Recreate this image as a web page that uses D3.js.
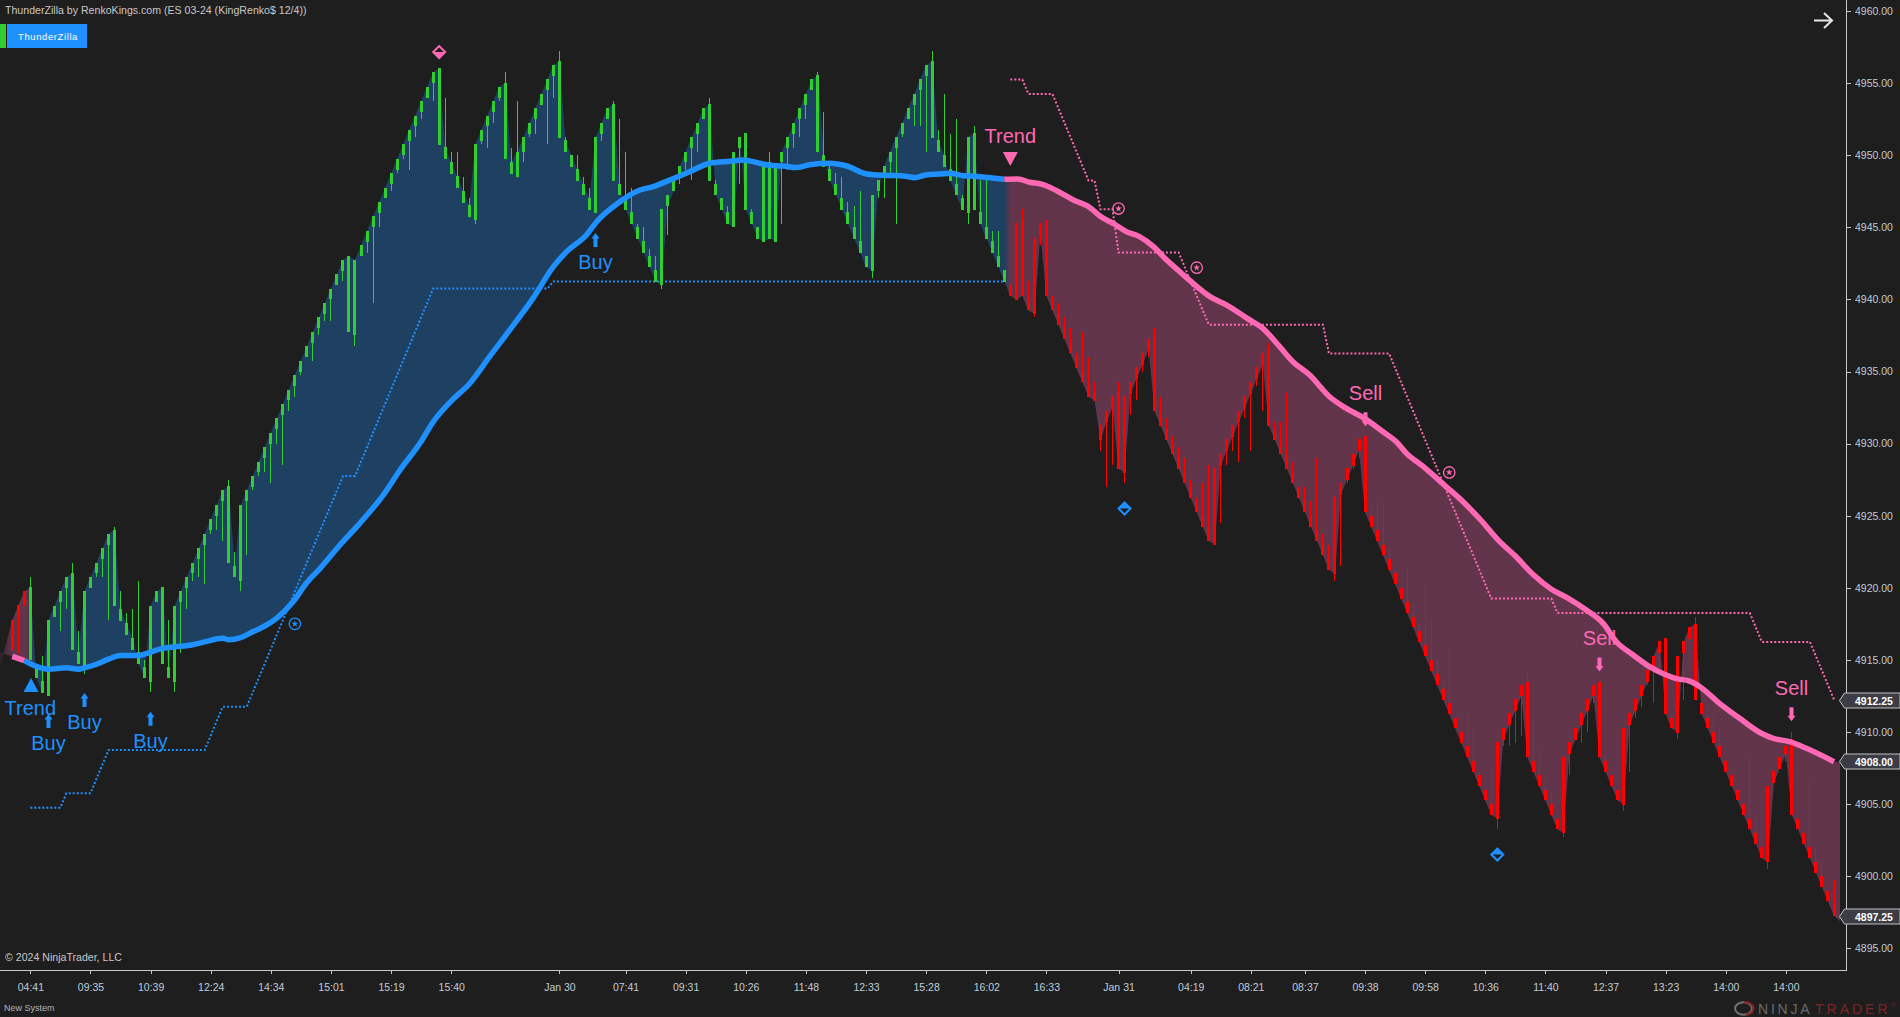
<!DOCTYPE html>
<html>
<head>
<meta charset="utf-8">
<title>ThunderZilla ES 03-24</title>
<script src="https://cdn.jsdelivr.net/npm/d3@7"></script>
<style>
  html, body { margin: 0; padding: 0; background: #1e1e1e; overflow: hidden; }
  svg { display: block; font-family: "Liberation Sans", Arial, sans-serif; }
</style>
</head>
<body>
<svg id="chart" width="1900" height="1017"></svg>
<script>
// KingRenko bars: open, close, high, low
const barOpen = [
4915.75,4918,4919,4920,4914.5,4913.5,4912.5,4918,4919,4920,
4921,4915.5,4914.5,4920,4921,4922,4923,4924,4918.5,4917.5,
4916.5,4915.5,4914.5,4913.5,4919,4920,4914.5,4913.5,4919,4920,
4921,4922,4923,4924,4925,4926,4927,4921.5,4920.5,4926,
4927,4928,4929,4930,4931,4932,4933,4934,4935,4936,
4937,4938,4939,4940,4941,4942,4943,4937.5,4943,4944,
4945,4946,4947,4948,4949,4950,4951,4952,4953,4954,
4955,4956,4950.5,4949.5,4948.5,4947.5,4946.5,4945.5,4951,4952,
4953,4954,4955,4949.5,4948.5,4950.25,4951.5,4952.5,4953.5,4954.5,
4955.5,4956.5,4951,4950,4949,4948,4947,4946,4951.5,4952.5,
4953.5,4948,4947,4946,4945,4944,4943,4942,4941,4946.5,
4947.5,4948.5,4949.5,4950.5,4951.5,4952.5,4953.5,4948,4947,4946,
4945,4950.5,4951.5,4946,4945,4944,4949.5,4944,4949.5,4950.5,
4951.5,4952.5,4953.5,4954.5,4955.5,4950,4949,4948,4947,4946,
4945,4944,4943,4942,4947.5,4948.5,4949.5,4950.5,4951.5,4952.5,
4953.5,4954.5,4955.5,4956.5,4951,4950,4949,4948,4947,4946,
4951.5,4946,4945,4944,4943,4942,4941,4940,4945.5,4940,
4939,4944.5,4945.5,4940,4939,4938,4937,4936,4935,4934,
4933,4930.25,4931.5,4932.5,4933.5,4928,4933.5,4934.5,4935.5,4936.5,
4937.5,4932,4931,4930,4929,4928,4927,4926,4925,4924,
4923,4928.5,4929.5,4930.5,4931.5,4932.5,4933.5,4934.5,4935.5,4936.5,
4931,4930,4929,4928,4927,4926,4925,4924,4923,4922,
4921,4926.5,4927.5,4928.5,4929.5,4930.5,4925,4924,4923,4922,
4921,4920,4919,4918,4917,4916,4915,4914,4913,4912,
4911,4910,4909,4908,4907,4906,4905,4904,4909.5,4910.5,
4911.5,4912.5,4913.5,4908,4907,4906,4905,4904,4903,4908.5,
4909.5,4910.5,4911.5,4912.5,4913.5,4908,4907,4906,4905,4910.5,
4911.5,4912.5,4913.5,4914.5,4915.5,4916.5,4911,4910,4915.5,4916.5,
4917.5,4912,4911,4910,4909,4908,4907,4906,4905,4904,
4903,4902,4901,4906.5,4907.5,4908.5,4909.5,4904,4903,4902,
4901,4900,4899,4898];

const barClose = [
4917.75,4918.75,4919.75,4915,4913.75,4912.75,4917.75,4918.75,4919.75,4920.75,
4915.75,4914.75,4919.75,4920.75,4921.75,4922.75,4923.75,4918.75,4917.75,4916.75,
4915.75,4914.75,4913.75,4918.75,4919.75,4914.75,4913.75,4918.75,4919.75,4920.75,
4921.75,4922.75,4923.75,4924.75,4925.75,4926.75,4921.75,4920.75,4925.75,4926.75,
4927.75,4928.75,4929.75,4930.75,4931.75,4932.75,4933.75,4934.75,4935.75,4936.75,
4937.75,4938.75,4939.75,4940.75,4941.75,4942.75,4937.75,4942.75,4943.75,4944.75,
4945.75,4946.75,4947.75,4948.75,4949.75,4950.75,4951.75,4952.75,4953.75,4954.75,
4955.75,4950.75,4949.75,4948.75,4947.75,4946.75,4945.75,4950.75,4951.75,4952.75,
4953.75,4954.75,4949.75,4948.75,4950.25,4951.25,4952.25,4953.25,4954.25,4955.25,
4956.25,4951.25,4950.25,4949.25,4948.25,4947.25,4946.25,4951.25,4952.25,4953.25,
4948.25,4947.25,4946.25,4945.25,4944.25,4943.25,4942.25,4941.25,4946.25,4947.25,
4948.25,4949.25,4950.25,4951.25,4952.25,4953.25,4948.25,4947.25,4946.25,4945.25,
4950.25,4951.25,4946.25,4945.25,4944.25,4949.25,4944.25,4949.25,4950.25,4951.25,
4952.25,4953.25,4954.25,4955.25,4950.25,4949.25,4948.25,4947.25,4946.25,4945.25,
4944.25,4943.25,4942.25,4947.25,4948.25,4949.25,4950.25,4951.25,4952.25,4953.25,
4954.25,4955.25,4956.25,4951.25,4950.25,4949.25,4948.25,4947.25,4946.25,4951.25,
4946.25,4945.25,4944.25,4943.25,4942.25,4941.25,4940.25,4945.25,4940.25,4939.25,
4944.25,4945.25,4940.25,4939.25,4938.25,4937.25,4936.25,4935.25,4934.25,4933.25,
4933.5,4931.25,4932.25,4933.25,4928.25,4933.25,4934.25,4935.25,4936.25,4937.25,
4932.25,4931.25,4930.25,4929.25,4928.25,4927.25,4926.25,4925.25,4924.25,4923.25,
4928.25,4929.25,4930.25,4931.25,4932.25,4933.25,4934.25,4935.25,4936.25,4931.25,
4930.25,4929.25,4928.25,4927.25,4926.25,4925.25,4924.25,4923.25,4922.25,4921.25,
4926.25,4927.25,4928.25,4929.25,4930.25,4925.25,4924.25,4923.25,4922.25,4921.25,
4920.25,4919.25,4918.25,4917.25,4916.25,4915.25,4914.25,4913.25,4912.25,4911.25,
4910.25,4909.25,4908.25,4907.25,4906.25,4905.25,4904.25,4909.25,4910.25,4911.25,
4912.25,4913.25,4908.25,4907.25,4906.25,4905.25,4904.25,4903.25,4908.25,4909.25,
4910.25,4911.25,4912.25,4913.25,4908.25,4907.25,4906.25,4905.25,4910.25,4911.25,
4912.25,4913.25,4914.25,4915.25,4916.25,4911.25,4910.25,4915.25,4916.25,4917.25,
4912.25,4911.25,4910.25,4909.25,4908.25,4907.25,4906.25,4905.25,4904.25,4903.25,
4902.25,4901.25,4906.25,4907.25,4908.25,4909,4904.25,4903.25,4902.25,4901.25,
4900.25,4899.25,4898.25,4897.25];

const barHigh = [
4917.75,4918.75,4919.75,4920.75,4914.5,4915.25,4917.75,4918.75,4919.75,4920.75,
4921.75,4917,4919.75,4920.75,4921.75,4922.75,4923.75,4924.25,4919.75,4918.25,
4918.5,4920.5,4915,4918.75,4919.75,4920,4917.75,4918.75,4919.75,4920.75,
4921.75,4922.75,4923.75,4924.75,4925.75,4926.75,4927.5,4922.5,4925.75,4926.75,
4927.75,4928.75,4929.75,4930.75,4931.75,4932.75,4933.75,4934.75,4935.75,4936.75,
4937.75,4938.75,4939.75,4940.75,4941.75,4942.75,4943,4942.75,4943.75,4944.75,
4945.75,4946.75,4947.75,4948.75,4949.75,4950.75,4951.75,4952.75,4953.75,4954.75,
4955.75,4956,4954,4950.25,4950.25,4948.5,4947,4950.75,4951.75,4952.75,
4953.75,4954.75,4955.75,4950.5,4953.75,4951.25,4952.25,4953.25,4954.25,4955.25,
4956.25,4957.25,4951.25,4950,4950,4948.5,4947.75,4951.25,4952.25,4953.25,
4953.75,4952.5,4950.25,4947.75,4945.25,4945,4943.5,4943,4946.25,4947.25,
4948.25,4949.25,4950.25,4951.25,4952.25,4953.25,4954,4948.25,4947,4946.5,
4950.25,4951.25,4951.5,4946.25,4945,4949.25,4950.25,4949.25,4950.25,4951.25,
4952.25,4953.25,4954.25,4955.25,4955.75,4953,4949.25,4948.75,4948.5,4946.75,
4946.5,4947.5,4943,4947.25,4948.25,4949.25,4950.25,4951.25,4952.25,4953.25,
4954.25,4955.25,4956.25,4957.25,4951.75,4954.25,4951.5,4952.5,4947.25,4951.25,
4952,4948.25,4948.25,4944.75,4944.75,4942,4941,4945.25,4946.25,4941.25,
4944.25,4945.25,4945.5,4940.25,4939.75,4938.75,4938,4936.25,4937.75,4936,
4934.25,4931.25,4932.25,4933.25,4934.25,4933.25,4934.25,4935.25,4936.25,4937.25,
4938,4933.25,4931.75,4930.5,4929.75,4929,4927.5,4926.25,4927.25,4928.5,
4928.25,4929.25,4930.25,4931.25,4932.25,4933.25,4934.25,4935.25,4936.25,4937,
4931.5,4931.5,4933.5,4928.75,4927,4927,4926,4929,4923.75,4923,
4926.25,4927.25,4928.25,4929.25,4930.25,4930.5,4925.5,4926,4925.75,4922.75,
4921.25,4920,4921.25,4918.75,4917.5,4920.25,4917.75,4915,4913.5,4915.75,
4911,4910,4911.25,4910.25,4907.25,4906,4907.25,4909.25,4910.25,4911.25,
4912.25,4913.25,4914.25,4910.75,4908.75,4906.75,4905.75,4904,4908.25,4909.25,
4910.25,4911.25,4912.25,4913.25,4913.5,4908.5,4907,4906,4910.25,4911.25,
4912.25,4913.25,4914.25,4915.25,4916.25,4916.5,4911.25,4915.25,4916.25,4917.25,
4918,4912,4911.75,4911.25,4910.25,4908,4907,4906,4905,4908.25,
4904,4903,4906.25,4907.25,4908.25,4909,4910,4904,4903,4906.5,
4902,4901,4899,4899.75];

const barLow = [
4915.75,4915.5,4918.75,4915,4913.75,4912.75,4912.5,4918,4917,4918.5,
4915.75,4914.75,4914,4920,4920.75,4920.75,4917.75,4918.75,4917.75,4916.75,
4915.75,4914.75,4913.75,4912.75,4919,4914.75,4913.75,4912.75,4915.5,4918.5,
4920.5,4920.75,4920.25,4923.75,4924,4923.25,4921.75,4920.75,4919.75,4922.25,
4926.75,4927.75,4928,4927.25,4930,4928.5,4932.25,4933.25,4934.75,4936,
4935.75,4937.5,4938.5,4938.5,4941,4941.25,4937.75,4936.75,4943,4943.25,
4939.75,4945,4947,4947.5,4948.75,4949.75,4949,4951.25,4952.5,4954,
4953.75,4950.75,4949.75,4948.75,4947.75,4946.75,4945.75,4945.25,4950.75,4950.5,
4952.25,4953.75,4949.75,4948.75,4948.5,4949.5,4951.25,4951.5,4953.5,4950.75,
4954,4951.25,4950.25,4949.25,4948.25,4947.25,4946.25,4946,4951,4952.5,
4948.25,4947.25,4946.25,4945.25,4944.25,4943.25,4942.25,4941.25,4940.75,4944.5,
4947.5,4948,4949,4948.25,4950.25,4952.5,4948.25,4947.25,4946.25,4945.25,
4945,4948,4946.25,4945.25,4944.25,4944,4944.25,4944,4945.25,4949,
4950.5,4951.25,4952.5,4954.5,4950.25,4949.25,4948.25,4947.25,4946.25,4945.25,
4944.25,4943.25,4942.25,4941.5,4947,4947,4948.75,4945.25,4951.25,4952.5,
4952,4952,4950.25,4951.25,4950.25,4949.25,4948.25,4947.25,4946.25,4945.25,
4946.25,4945.25,4944.25,4943.25,4942.25,4941.25,4940.25,4940,4940.25,4939.25,
4938.75,4943.75,4940.25,4939.25,4938.25,4937.25,4936.25,4935.25,4934.25,4933.25,
4933,4929.5,4927,4928.5,4928.25,4927.25,4932,4933,4935,4936,
4932.25,4931.25,4930.25,4929.25,4928.25,4927.25,4926.25,4925.25,4924.25,4923.25,
4923,4924.5,4928.5,4929.5,4928.75,4931.75,4929.5,4934,4932.25,4931.25,
4930.25,4929.25,4928.25,4927.25,4926.25,4925.25,4924.25,4923.25,4922.25,4921.25,
4920.5,4921.5,4927.25,4928.25,4929,4925.25,4924.25,4923.25,4922.25,4921.25,
4920.25,4919.25,4918.25,4917.25,4916.25,4915.25,4914.25,4913.25,4912.25,4911.25,
4910.25,4909.25,4908.25,4907.25,4906.25,4905.25,4904.25,4903.25,4909,4909,
4909.25,4909.75,4908.25,4907.25,4906.25,4905.25,4904.25,4903.25,4902.75,4907,
4909.5,4909.25,4910,4912,4908.25,4907.25,4906.25,4905.25,4904.5,4907.25,
4911,4911.75,4913.25,4912,4914.5,4911.25,4910.25,4909.5,4912.25,4916.5,
4912.25,4911.25,4910.25,4909.25,4908.25,4907.25,4906.25,4905.25,4904.25,4903.25,
4902.25,4901.25,4900.5,4906.5,4907.5,4908,4904.25,4903.25,4902.25,4901.25,
4900.25,4899.25,4898.25,4897.25];

// Bars where the trend state flips: bearish until the first, bullish until the second
const trendFlipUp = 3;
const trendFlipDown = 166;

// Trend moving average, sampled along the bars
const maIndex = [0,2,4,6,9,11,12,14,16,18,21,22,25,27,30,32,35,36,38,40,42,44,46.7,48.9,51.2,54.5,57.8,61.7,64.5,67.8,70,73,76,79.6,82.6,86.6,90,92.2,95.5,97.2,101,102.7,104.4,106.6,108.3,111,112.7,116,119.4,121.6,124.3,126,128.2,130.4,132.6,136,138.8,142.1,145.4,148.2,150.1,152.1,154.3,156,158.2,161,165,167.3,169.2,171.2,173.7,176.5,179.2,180.9,183.1,185.3,187.5,189.8,192,194.2,196.4,199.2,202,205.4,208,210.8,213,215.8,219.1,221.9,224.9,228,230.2,231.9,234.7,238.5,241.3,244,247.4,250,253,256,258.8,261.8,264.6,266.8,269.6,272.3,275.1,276.8,279,280.7,284,287.3,290.9,292.9,295.6,298.4,303];
const maValue = [4915.25,4914.95,4914.55,4914.35,4914.45,4914.35,4914.45,4914.7,4915.05,4915.3,4915.3,4915.4,4915.8,4915.9,4916.05,4916.25,4916.5,4916.4,4916.55,4916.95,4917.35,4917.9,4919.03,4920.31,4921.35,4922.97,4924.47,4926.43,4928.17,4930.02,4931.5,4932.95,4934.13,4936.15,4937.8,4940.07,4942.27,4943.31,4944.47,4945.39,4946.75,4947.24,4947.59,4947.82,4948.1,4948.56,4948.86,4949.44,4949.58,4949.67,4949.44,4949.3,4949.25,4949.14,4949.34,4949.44,4949.25,4948.7,4948.6,4948.56,4948.44,4948.65,4948.7,4948.74,4948.58,4948.51,4948.33,4948.35,4948.12,4948,4947.54,4946.89,4946.38,4945.78,4945.27,4944.7,4944.35,4943.66,4942.73,4941.92,4941.11,4940.19,4939.61,4938.68,4937.99,4936.72,4935.68,4934.75,4933.25,4932.44,4931.75,4930.82,4930.13,4929.32,4928.4,4927.01,4925.97,4924.81,4923.2,4922.2,4920.9,4919.9,4919.27,4918.46,4917.53,4916.26,4915.34,4914.53,4913.95,4913.7,4913.53,4913.14,4911.97,4910.95,4909.91,4909.56,4909.33,4908.87,4907.94];

// The cloud runs a little past the visible bars on both sides
const cloudLeadIndex = [-2,-1];
const cloudLeadEdge = [4914.7,4916.15];
const cloudLeadMa = 4915.5;
const cloudTailIndex = 304;
const cloudTailEdge = 4896.9;
const cloudTailMa = 4907.9;

// Trailing stop lines
const longStopIndex = [3,8,9,13,16,32,35,39,55,57,70,89,90,165];
const longStopPrice = [4904.75,4904.75,4905.75,4905.75,4908.75,4908.75,4911.75,4911.75,4927.75,4927.75,4940.75,4940.75,4941.25,4941.25];
const shortStopIndex = [166,168,169,173,179,180,181,183,184,194,199,218,219,229,246,256,257,289,291,299,303];
const shortStopPrice = [4955.25,4955.25,4954.25,4954.25,4948.25,4948.25,4946.25,4946.25,4943.25,4943.25,4938.25,4938.25,4936.25,4936.25,4919.25,4919.25,4918.25,4918.25,4916.25,4916.25,4912.25];

// Signals
const buyIndex = [6,12,23,97];
const buyPrice = [4911.25,4912.7,4911.4,4944.6];
const sellIndex = [225,264,296];
const sellPrice = [4931.2,4914.2,4910.75];
const trendUpSignal = [3,4913.75];
const trendDownSignal = [166,4949.25];
const starIndex = [47,184,197,239];
const starPrice = [4917.5,4946.3,4942.2,4928];
const diamondIndex = [71,185,247];
const diamondPrice = [4957.15,4925.5,4901.5];

// Axes
const timeTickIndex = [3,13,23,33,43,53,63,73,91,102,112,122,132,142,152,162,172,184,196,206,215,225,235,245,255,265,275,285,295];
const timeTickLabel = ["04:41","09:35","10:39","12:24","14:34","15:01","15:19","15:40","Jan 30","07:41","09:31","10:26","11:48","12:33","15:28","16:02","16:33","Jan 31","04:19","08:21","08:37","09:38","09:58","10:36","11:40","12:37","13:23","14:00","14:00"];
const priceTicks = [4895,4900,4905,4910,4915,4920,4925,4930,4935,4940,4945,4950,4955,4960];
const priceTags = [4912.25,4908,4897.25];

const COLOR = {
  bg: "#1e1e1e", up: "#32cd32", down: "#ff0000",
  blue: "#1e90ff", pink: "#ff69b4",
  axis: "#c9c9c9", axisText: "#c0ccd8", text: "#c8c8c8"
};

const svg = d3.select("#chart");
svg.append("rect").attr("width", 1900).attr("height", 1017).attr("fill", COLOR.bg);

const x = d3.scaleLinear().domain([0, 303]).range([12.3, 1834]);
const y = d3.scaleLinear().domain([4895, 4960]).range([948.3, 11]);
const maAt = d3.scaleLinear().domain(maIndex).range(maValue);
const isBull = i => i >= trendFlipUp && i < trendFlipDown;

// Cloud between the moving average and whichever body edge lies farther from it
const cloudEdge = barOpen.map((o, i) => {
  const top = Math.max(o, barClose[i]), bottom = Math.min(o, barClose[i]), m = maAt(i);
  return Math.abs(top - m) >= Math.abs(bottom - m) ? top : bottom;
});
const linePath = d3.line().x(d => x(d[0])).y(d => y(d[1]));
const edgePts = [
  ...cloudLeadIndex.map((d, i) => [d, cloudLeadEdge[i]]),
  ...cloudEdge.map((v, i) => [i, v]),
  [cloudTailIndex, cloudTailEdge]
];
const maPts = [
  [cloudLeadIndex[0], cloudLeadMa],
  ...maIndex.map((d, i) => [d, maValue[i]]),
  [cloudTailIndex, cloudTailMa]
];
const defs = svg.append("defs");
const grad = defs.append("linearGradient").attr("id", "cloudFill")
  .attr("gradientUnits", "userSpaceOnUse")
  .attr("x1", 0).attr("x2", 1900).attr("y1", 0).attr("y2", 0);
[
  [-2, COLOR.pink, 0.1], [0, COLOR.pink, 0.3], [2.3, COLOR.pink, 0.3], [3.7, COLOR.blue, 0.3],
  [trendFlipDown - 1, COLOR.blue, 0.3], [trendFlipDown, COLOR.pink, 0.3], [cloudTailIndex, COLOR.pink, 0.3]
].forEach(s => grad.append("stop")
  .attr("offset", Math.max(0, x(s[0])) / 1900)
  .attr("stop-color", s[1]).attr("stop-opacity", s[2]));
svg.append("path")
  .attr("d", linePath(edgePts) + "L" + linePath(maPts.slice().reverse()).slice(1) + "Z")
  .attr("fill", "url(#cloudFill)");

// Trailing stops
[[longStopIndex, longStopPrice, COLOR.blue], [shortStopIndex, shortStopPrice, COLOR.pink]].forEach(([idx, price, c]) => {
  svg.append("path")
    .attr("d", linePath(idx.map((d, i) => [d, price[i]])))
    .attr("fill", "none").attr("stroke", c).attr("stroke-width", 2)
    .attr("stroke-dasharray", "2 2");
});

// Renko bars
const bars = svg.append("g").attr("shape-rendering", "crispEdges");
const centers = d3.range(barOpen.length).map(i => Math.floor(x(i)) + 0.5);
bars.selectAll("line").data(d3.range(barOpen.length)).join("line")
  .attr("x1", i => centers[i]).attr("x2", i => centers[i])
  .attr("y1", i => y(barHigh[i])).attr("y2", i => y(barLow[i]))
  .attr("stroke", i => isBull(i) ? COLOR.up : COLOR.down);
bars.selectAll("rect").data(d3.range(barOpen.length)).join("rect")
  .each(function (i) {
    const top = y(Math.max(barOpen[i], barClose[i]));
    const bot = y(Math.min(barOpen[i], barClose[i]));
    const c = isBull(i) ? COLOR.up : COLOR.down;
    const hollow = isBull(i) ? barClose[i] < barOpen[i] : barClose[i] > barOpen[i];
    d3.select(this)
      .attr("x", centers[i] - (hollow ? 1 : 1.5))
      .attr("width", hollow ? 2 : 3)
      .attr("y", top).attr("height", bot - top)
      .attr("fill", hollow ? COLOR.bg : c)
      .attr("fill-opacity", hollow ? 0 : 1)
      .attr("stroke", hollow ? c : "none");
  });

// Moving average, coloured by trend state
const maLine = d3.line().curve(d3.curveMonotoneX).x(d => x(d[0])).y(d => y(d[1]));
const maAll = maIndex.map((d, i) => [d, maValue[i]]);
[
  [maAll.filter(p => p[0] <= 2), COLOR.pink],
  [maAll.filter(p => p[0] >= 2 && p[0] <= trendFlipDown - 1), COLOR.blue],
  [maAll.filter(p => p[0] >= trendFlipDown - 1), COLOR.pink]
].forEach(([pts, c]) => {
  svg.append("path").attr("d", maLine(pts)).attr("fill", "none")
    .attr("stroke", c).attr("stroke-width", 5.5);
});

// Buy and sell arrows with their captions
const labelFont = 20;
const caption = (px, py, text, c) => svg.append("text").attr("x", px).attr("y", py)
  .attr("text-anchor", "middle").attr("font-size", labelFont).attr("fill", c).text(text);
const arrowUp = "M0,0L4,5.5L2,5.5L2,14L-2,14L-2,5.5L-4,5.5Z";
buyIndex.forEach((d, i) => {
  const px = Math.floor(x(d)) + 0.5, py = y(buyPrice[i]);
  svg.append("path").attr("d", arrowUp).attr("fill", COLOR.blue).attr("transform", `translate(${px},${py})`);
  caption(px, py + 36, "Buy", COLOR.blue);
});
sellIndex.forEach((d, i) => {
  const px = Math.floor(x(d)) + 0.5, py = y(sellPrice[i]);
  svg.append("path").attr("d", arrowUp).attr("fill", COLOR.pink).attr("transform", `translate(${px},${py}) scale(1,-1)`);
  caption(px, py - 26, "Sell", COLOR.pink);
});

// Trend-change triangles
{
  const px = x(trendUpSignal[0]) + 0.7, py = y(trendUpSignal[1]);
  svg.append("path").attr("d", "M0,0L7.5,14L-7.5,14Z").attr("fill", COLOR.blue).attr("transform", `translate(${px},${py})`);
  caption(x(trendUpSignal[0]), py + 37, "Trend", COLOR.blue);
  const qx = x(trendDownSignal[0]), qy = y(trendDownSignal[1]);
  svg.append("path").attr("d", "M0,0L7.5,-14L-7.5,-14Z").attr("fill", COLOR.pink).attr("transform", `translate(${qx},${qy})`);
  caption(qx, qy - 23, "Trend", COLOR.pink);
}

// Circled stars
const starShape = d3.symbol().type(d3.symbolStar).size(15)();
starIndex.forEach((d, i) => {
  const c = d < trendFlipDown ? COLOR.blue : COLOR.pink;
  const g = svg.append("g").attr("transform", `translate(${x(d)},${y(starPrice[i])})`);
  g.append("circle").attr("r", 5.7).attr("fill", "none").attr("stroke", c).attr("stroke-width", 1.3);
  g.append("path").attr("d", starShape).attr("fill", c);
});

// Half-filled diamonds: pink filled below, blue filled above
diamondIndex.forEach((d, i) => {
  const pinkOne = d < trendFlipDown, c = pinkOne ? COLOR.pink : COLOR.blue;
  const g = svg.append("g").attr("transform", `translate(${x(d)},${y(diamondPrice[i])})`);
  g.append("path").attr("d", "M0,-6L6,0L0,6L-6,0Z").attr("fill", COLOR.bg).attr("stroke", c).attr("stroke-width", 2);
  g.append("path").attr("d", pinkOne ? "M-6,0L6,0L0,6Z" : "M-6,0L6,0L0,-6Z").attr("fill", c);
});

// Time axis
const axisX = svg.append("g").attr("transform", "translate(0,970)")
  .call(d3.axisBottom(x).tickValues(timeTickIndex).tickFormat((d, i) => timeTickLabel[i]).tickSize(4).tickSizeOuter(0).tickPadding(10));
axisX.select(".domain").remove();
axisX.selectAll("line").attr("stroke", COLOR.axis).attr("shape-rendering", "crispEdges");
axisX.selectAll("text").attr("fill", COLOR.axisText).attr("font-size", 10.5)
  .attr("font-family", '"Liberation Sans", Arial, sans-serif');

// Price axis
const axisY = svg.append("g").attr("transform", "translate(1846,0)")
  .call(d3.axisRight(y).tickValues(priceTicks).tickFormat(d3.format(".2f")).tickSize(5).tickSizeOuter(0).tickPadding(4));
axisY.select(".domain").remove();
axisY.selectAll("line").attr("stroke", COLOR.axis).attr("shape-rendering", "crispEdges");
axisY.selectAll("text").attr("fill", COLOR.axisText).attr("font-size", 10.5)
  .attr("font-family", '"Liberation Sans", Arial, sans-serif');

// Axis frame
svg.append("path").attr("d", "M0,970.5H1846.5V0").attr("fill", "none")
  .attr("stroke", COLOR.axis).attr("shape-rendering", "crispEdges");

// Last-value tags on the price axis
priceTags.forEach(v => {
  const py = Math.round(y(v)) + 0.5;
  const g = svg.append("g").attr("transform", `translate(0,${py})`);
  g.append("path").attr("d", "M1839.5,0L1844.5,-7.5H1900V7.5H1844.5Z")
    .attr("fill", "#3c3c45").attr("stroke", "#c0c0c0");
  g.append("text").attr("x", 1855).attr("y", 4).attr("font-size", 10.5).attr("font-weight", "bold")
    .attr("fill", "#ffffff").text(d3.format(".2f")(v));
});

// Header, legend button and footers
svg.append("text").attr("x", 5).attr("y", 14).attr("font-size", 10.6).attr("fill", COLOR.text)
  .text("ThunderZilla by RenkoKings.com (ES 03-24 (KingRenko$ 12/4))");
svg.append("rect").attr("x", 0).attr("y", 24).attr("width", 6).attr("height", 24).attr("fill", "#32cd32");
svg.append("rect").attr("x", 7).attr("y", 24).attr("width", 80).attr("height", 24).attr("fill", COLOR.blue);
svg.append("text").attr("x", 48).attr("y", 40).attr("text-anchor", "middle").attr("font-size", 9.5)
  .attr("letter-spacing", 0.6).attr("fill", "#ffffff").text("ThunderZilla");
svg.append("text").attr("x", 5).attr("y", 961).attr("font-size", 10.6).attr("fill", COLOR.text)
  .text("© 2024 NinjaTrader, LLC");
svg.append("text").attr("x", 4).attr("y", 1011).attr("font-size", 9).attr("fill", "#b4b4b4")
  .text("New System");

// Direction arrow in the corner
svg.append("path").attr("d", "M1814,20.5H1832M1824,13L1832,20.5L1824,28")
  .attr("fill", "none").attr("stroke", "#e6e6e6").attr("stroke-width", 2);

// NinjaTrader wordmark
const logo = svg.append("g");
logo.append("ellipse").attr("cx", 1743.5).attr("cy", 1008.5).attr("rx", 8.5).attr("ry", 6.2).attr("fill", "none")
  .attr("stroke", "#707070").attr("stroke-width", 2);
logo.append("path").attr("d", "M1744,1002.3A8.5,6.2 0 0 1 1746,1014.7").attr("fill", "none")
  .attr("stroke", "#8a2323").attr("stroke-width", 2.2);
logo.append("text").attr("x", 1758).attr("y", 1014).attr("font-size", 14)
  .attr("letter-spacing", 2.8).attr("fill", "#6a6a6a").text("NINJA");
logo.append("text").attr("x", 1815).attr("y", 1014).attr("font-size", 14)
  .attr("letter-spacing", 3).attr("fill", "#7f2424").text("TRADER");
logo.append("text").attr("x", 1891).attr("y", 1007).attr("font-size", 6).attr("fill", "#7f2424").text("®");
</script>
</body>
</html>
